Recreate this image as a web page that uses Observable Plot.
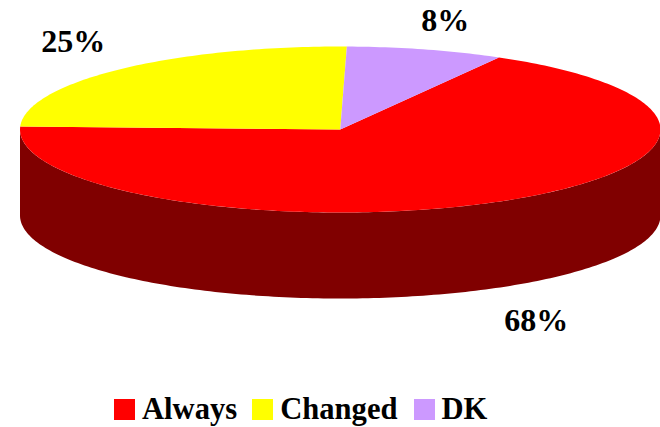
<!DOCTYPE html>
<html>
<head>
<meta charset="utf-8">
<script src="https://cdn.jsdelivr.net/npm/d3@7"></script>
<script src="https://cdn.jsdelivr.net/npm/@observablehq/plot@0.6"></script>
<style>
html,body{margin:0;padding:0;background:#fff}
#chart svg{display:block}
#legend{display:flex;align-items:center;height:39px;font:bold 30.6px "Liberation Serif",serif;color:#000;padding-left:114px;white-space:nowrap;line-height:1}
#legend span.sw{display:inline-block;width:21px;height:21px;flex:none}
</style>
</head>
<body>
<div id="chart"></div>
<div id="legend"></div>
<script>
// Chart values
const categories = ["Always", "Changed", "DK"];
const shares = [68, 25, 8];
const labels = ["68%", "25%", "8%"];
const sliceColors = ["#ff0000", "#ffff00", "#cc99ff"];
const wallColor = "#800000";

// Layout of the tilted disc (unit-ellipse coordinates)
const startAngle = 29.7;       // degrees clockwise from 12 o'clock
const depth = 86 / 83;         // wall height in ellipse radii
const labelX = [0.612, -0.834, 0.328];
const labelY = [2.30, -1.06, -1.313];
const svgHeight = 390;

const total = d3.sum(shares);
const rad = (a) => a * Math.PI / 180;
const rim = (a) => ({x: Math.sin(rad(a)), y: -Math.cos(rad(a))});

// Top faces, from the shares
let acc = startAngle;
const faces = categories.flatMap((slice, i) => {
  const from = acc, to = acc + shares[i] / total * 360;
  acc = to;
  const n = Math.ceil(to - from);
  return [{x: 0, y: 0, slice},
          ...d3.range(n + 1).map((k) => ({...rim(from + (to - from) * k / n), slice}))];
});

// Front wall: the visible half of the rim and the same half moved down
const front = d3.range(90, 271).map(rim);
const wall = [...front, ...front.slice().reverse().map((p) => ({x: p.x, y: p.y + depth}))];

const labelRows = labels.map((label, i) => ({label, x: labelX[i], y: labelY[i]}));

const plot = Plot.plot({
  width: 660,
  height: svgHeight,
  margin: 0,
  style: {background: "transparent", overflow: "visible"},
  x: {domain: [-1, 1], range: [19.5, 660], axis: null},
  y: {domain: [-1, 1], range: [46, 212], axis: null},
  color: {domain: categories, range: sliceColors},
  marks: [
    Plot.line(wall, {x: "x", y: "y", fill: wallColor, stroke: "none"}),
    Plot.line(faces, {x: "x", y: "y", z: "slice", fill: "slice", stroke: "none"}),
    Plot.text(labelRows, {
      x: "x", y: "y", text: "label",
      fontFamily: "Liberation Serif", fontWeight: "bold", fontSize: 32, fill: "#000"
    })
  ]
});
document.getElementById("chart").append(plot);

const legend = document.getElementById("legend");
const gaps = [15, 16];
categories.forEach((c, i) => {
  const sw = document.createElement("span");
  sw.className = "sw";
  sw.style.background = plot.scale("color").apply(c);
  const t = document.createElement("span");
  t.textContent = c;
  t.style.marginLeft = "7px";
  t.style.marginRight = (gaps[i] || 0) + "px";
  legend.append(sw, t);
});
</script>
</body>
</html>
